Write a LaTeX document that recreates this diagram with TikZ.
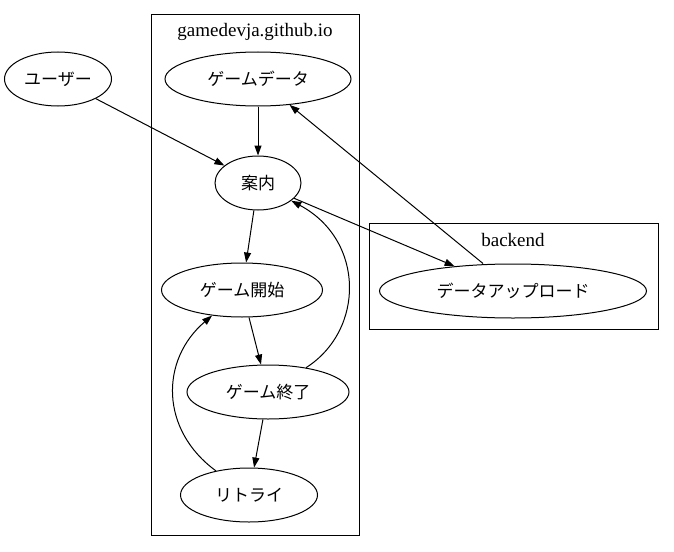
\documentclass[tikz,border=0pt]{standalone}
\usepackage{fontspec}
\setmainfont{Liberation Serif}
\newfontfamily\jpfont{Noto Sans CJK JP}
\usetikzlibrary{shapes.geometric,arrows.meta}
\tikzset{x=1pt,y=-1pt}
\tikzset{
  gnode/.style={ellipse, draw, line width=1pt, inner sep=0pt,
    minimum height=54, font=\jpfont\fontsize{17}{19}\selectfont},
  gedge/.style={line width=1pt, -{Triangle[length=10pt,width=7pt]}},
  cluster/.style={draw, line width=1pt},
  clabel/.style={font=\fontsize{19}{21}\selectfont}
}

\begin{document}
\begin{tikzpicture}

\useasboundingbox (0,0) rectangle (674,551);

%% clusters
\draw[cluster] (151,15) rectangle (359,535);
\node[clabel] (webtitle) at (255,32) {gamedevja.github.io};
\draw[cluster] (369,223) rectangle (658,329);
\node[clabel] (backtitle) at (513,240) {backend};

%% nodes
\node[gnode, minimum width=107] (user) at (58,79) {ユーザー};
\node[gnode, minimum width=186] (data) at (258,79) {ゲームデータ};
\node[gnode, minimum width=86] (guide) at (258,183) {案内};
\node[gnode, minimum width=161] (start) at (242,290) {ゲーム開始};
\node[gnode, minimum width=162] (finish) at (268,392) {ゲーム終了};
\node[gnode, minimum width=137] (retry) at (249,495) {リトライ};
\node[gnode, minimum width=267] (upload) at (513,291) {データアップロード};

%% edges
\draw[gedge] (user) -- (guide);
\draw[gedge] (data) -- (guide);
\draw[gedge] (guide) -- (start);
\draw[gedge] (start) -- (finish);
\draw[gedge] (finish) -- (retry);
\draw[gedge] (retry) .. controls (160,430) and (160,360) .. (start);
\draw[gedge] (finish) .. controls (365,330) and (365,240) .. (guide);
\draw[gedge] (guide) -- (upload);
\draw[gedge] (upload.north) ++(-30,0) coordinate (upfoot) (upfoot) -- (data);

\end{tikzpicture}
\end{document}
